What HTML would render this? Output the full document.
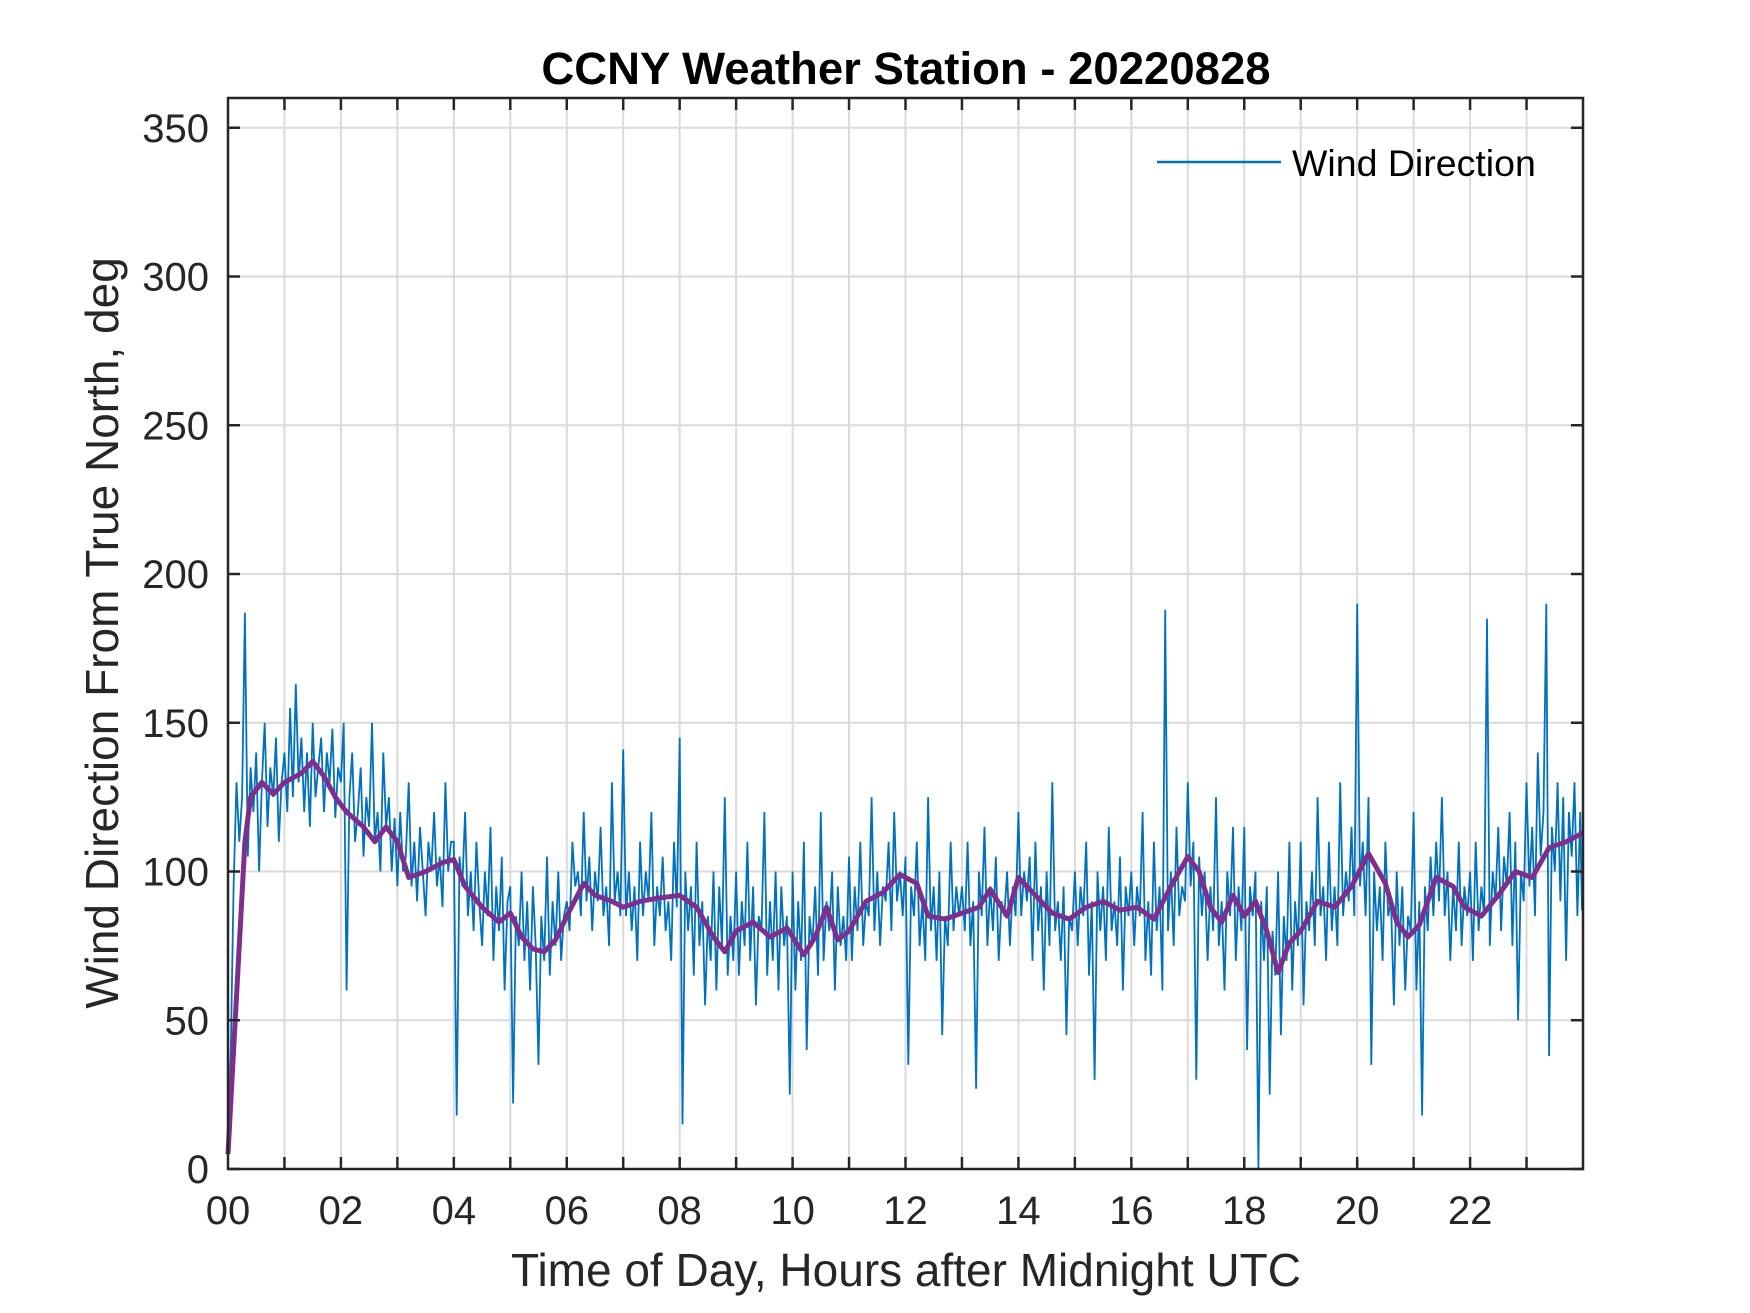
<!DOCTYPE html>
<html><head><meta charset="utf-8"><style>
html,body{margin:0;padding:0;background:#fff;}
svg{display:block;font-family:"Liberation Sans",Arial,sans-serif;}
</style></head><body>
<svg id="chart" width="1750" height="1313" viewBox="0 0 1750 1313" xmlns="http://www.w3.org/2000/svg">
<rect width="1750" height="1313" fill="#fff"/>
<g id="grid"></g>
<g id="series"></g>
<g id="axes"></g>
<text x="906" y="84" text-anchor="middle" font-size="45.5" font-weight="bold" fill="#000">CCNY Weather Station - 20220828</text>
<text x="906" y="1286" text-anchor="middle" font-size="46" fill="#262626">Time of Day, Hours after Midnight UTC</text>
<text transform="translate(118,633) rotate(-90)" text-anchor="middle" font-size="46" fill="#262626">Wind Direction From True North, deg</text>
<g>
<line x1="1157" y1="162" x2="1281" y2="162" stroke="#0072BD" stroke-width="2.5"/>
<text x="1292" y="176" font-size="37.5" fill="#000">Wind Direction</text>
</g>
</svg>
<script>
const yTicks = [0,50,100,150,200,250,300,350];
const xTickHours = [0,2,4,6,8,10,12,14,16,18,20,22];
const xTickLabels = ["00","02","04","06","08","10","12","14","16","18","20","22"];
// raw wind direction, 20 samples per hour
const windRaw = [
8,40,95,130,110,125,187,105,135,120,140,100,130,150,115,135,125,145,110,130,
140,120,155,125,163,130,145,120,140,115,150,125,135,145,120,140,130,148,118,135,
130,150,60,125,140,110,120,135,105,125,115,150,110,120,100,140,115,125,100,118,
95,120,100,105,130,95,110,90,115,100,85,110,100,120,95,105,88,130,100,110,
110,18,105,95,120,85,100,80,110,90,75,100,85,115,70,95,80,105,60,90,
95,22,85,75,100,70,90,60,95,75,35,85,70,105,65,90,75,100,70,85,
90,80,110,95,100,85,120,90,105,80,100,90,115,85,95,75,130,90,100,85,
141,85,100,80,95,70,110,85,100,90,120,75,95,85,105,80,90,70,110,88,
145,15,100,80,95,65,110,75,90,55,85,70,100,60,95,75,125,65,85,70,
100,65,90,75,110,70,95,55,85,80,120,65,90,70,100,60,95,75,85,25,
100,60,90,70,110,40,85,75,95,65,120,70,90,80,100,60,95,75,85,70,
105,70,95,80,110,75,90,85,125,80,100,75,95,90,110,80,120,90,100,85,
105,35,95,85,110,75,90,70,125,80,95,70,100,45,85,75,110,80,95,85,
95,80,110,75,90,27,100,85,115,75,95,80,105,70,90,85,100,75,95,85,
120,85,100,90,105,70,110,80,95,60,100,75,130,80,90,70,95,45,85,80,
100,75,95,85,110,65,90,30,100,80,95,70,115,80,90,75,105,60,95,85,
100,75,95,85,120,70,90,65,110,80,95,60,188,80,100,75,115,85,95,90,
130,95,110,30,105,85,100,70,95,80,125,75,90,60,100,85,115,70,95,80,
115,40,95,85,100,0,90,70,95,25,80,65,100,45,85,70,110,60,90,75,
110,55,90,80,100,75,125,85,95,70,110,80,95,75,130,85,100,90,115,85,
190,95,110,85,125,35,100,80,95,70,110,85,90,55,100,75,95,60,85,80,
120,60,90,18,95,80,105,85,110,90,125,85,100,70,95,80,110,75,95,85,
100,70,110,80,95,85,185,75,100,90,115,80,105,95,120,75,110,50,100,90,
130,95,115,85,140,105,120,190,38,115,100,130,90,125,70,120,105,130,85,120];
// smoothed trend
const trendHours = [0,0.1,0.3,0.4,0.6,0.8,1.0,1.3,1.5,1.7,1.9,2.1,2.4,2.6,2.8,3.0,3.2,3.5,3.8,4.0,4.2,4.5,4.8,5.0,5.2,5.4,5.6,5.8,6.0,6.3,6.5,6.8,7.0,7.3,7.6,8.0,8.3,8.6,8.8,9.0,9.3,9.6,9.9,10.2,10.4,10.6,10.8,11.0,11.3,11.6,11.9,12.2,12.4,12.7,13.0,13.3,13.5,13.8,14.0,14.3,14.6,14.9,15.2,15.5,15.8,16.1,16.4,16.7,17.0,17.2,17.4,17.6,17.8,18.0,18.2,18.4,18.6,18.8,19.0,19.3,19.6,19.9,20.2,20.5,20.7,20.9,21.1,21.4,21.7,21.9,22.2,22.5,22.8,23.1,23.4,23.7,24];
const trendValues = [5,40,110,125,130,126,130,133,137,132,125,120,115,110,115,110,98,100,103,104,95,88,83,86,78,74,73,77,85,96,92,90,88,90,91,92,88,78,73,80,83,78,81,72,78,88,77,80,90,93,99,96,85,84,86,88,94,85,98,92,86,84,88,90,87,88,84,95,105,100,88,83,92,85,90,80,66,76,80,90,88,95,106,96,83,78,82,98,95,88,85,92,100,98,108,110,113];

const NS="http://www.w3.org/2000/svg";
const X0=228,X1=1583,YB=1169,YT=98;
const xS=h=>X0+(h/24)*(X1-X0);
const yS=v=>YB-(v/360)*(YB-YT);
function mk(tag,attrs,parent){const e=document.createElementNS(NS,tag);for(const k in attrs)e.setAttribute(k,attrs[k]);parent.appendChild(e);return e;}
const grid=document.getElementById('grid'),series=document.getElementById('series'),axes=document.getElementById('axes');
for(let h=1;h<24;h++){const g=mk('line',{x1:xS(h),x2:xS(h),y1:YT,y2:YB,stroke:'#dadada','stroke-width':2},grid);

}
yTicks.forEach(v=>{if(v===0)return;const g=mk('line',{x1:X0,x2:X1,y1:yS(v),y2:yS(v),stroke:'#dadada','stroke-width':2},grid);

});
let d='';windRaw.forEach((v,i)=>{const h=i*24/windRaw.length;d+=(i?'L':'M')+xS(h).toFixed(1)+' '+yS(v).toFixed(1);});
d+='L'+xS(23.98).toFixed(1)+' '+yS(87).toFixed(1);
const raw=mk('path',{d:d,fill:'none',stroke:'#0072BD','stroke-width':1.8,'stroke-linejoin':'miter'},series);


let d2='';trendHours.forEach((h,i)=>{d2+=(i?'L':'M')+xS(h).toFixed(1)+' '+yS(trendValues[i]).toFixed(1);});
const tr=mk('path',{d:d2,fill:'none',stroke:'#7E2F8E','stroke-width':5,'stroke-linejoin':'round'},series);


const fr=mk('rect',{x:X0,y:YT,width:X1-X0,height:YB-YT,fill:'none',stroke:'#262626','stroke-width':2.5},axes);


for(let h=1;h<24;h++){
const t1=mk('line',{x1:xS(h),x2:xS(h),y1:YB,y2:YB-12,stroke:'#262626','stroke-width':2.5},axes);


const t2=mk('line',{x1:xS(h),x2:xS(h),y1:YT,y2:YT+12,stroke:'#262626','stroke-width':2.5},axes);

}
xTickHours.forEach((h,i)=>{const t=mk('text',{x:xS(h),y:1224,'text-anchor':'middle','font-size':40,fill:'#262626'},axes);t.textContent=xTickLabels[i];

});
yTicks.forEach(v=>{
const t1=mk('line',{x1:X0,x2:X0+12,y1:yS(v),y2:yS(v),stroke:'#262626','stroke-width':2.5},axes);


const t2=mk('line',{x1:X1,x2:X1-12,y1:yS(v),y2:yS(v),stroke:'#262626','stroke-width':2.5},axes);


const t=mk('text',{x:209,y:yS(v)+14,'text-anchor':'end','font-size':40,fill:'#262626'},axes);t.textContent=String(v);

});
</script>
</body></html>
